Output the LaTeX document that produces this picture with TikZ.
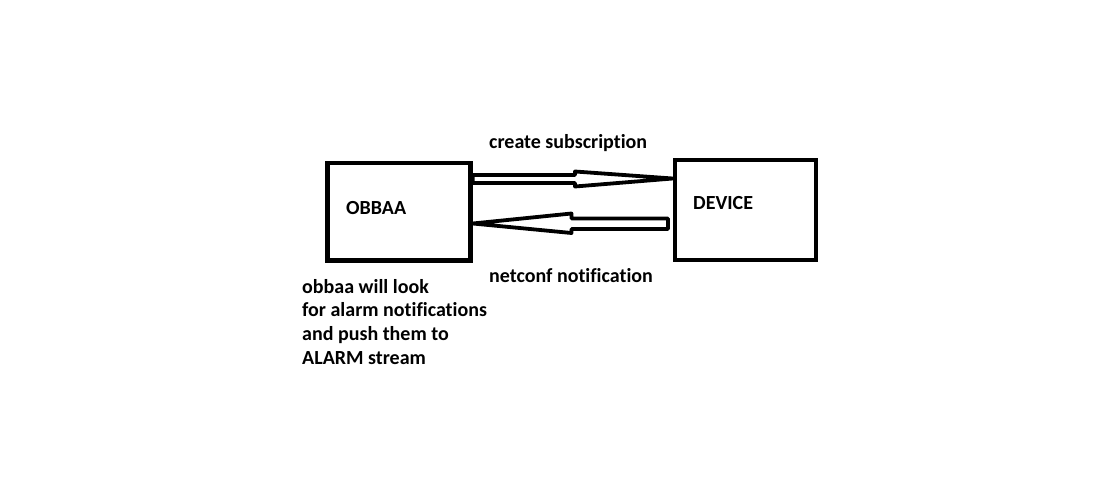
\documentclass[tikz,border=0pt]{standalone}
\usepackage{fontspec}
\setmainfont{Carlito}[Ligatures=NoCommon]
\usetikzlibrary{calc}

\begin{document}
\begin{tikzpicture}[x=1pt, y=-1pt,
    box/.style={rectangle, draw, line width=4.5pt, inner sep=0pt},
    lbl/.style={font=\fontsize{20}{23.8}\selectfont\bfseries, inner sep=0pt, anchor=base west},
    hollow/.style={draw, line width=3.8pt, line join=round}
]
    \useasboundingbox (0,0) rectangle (1093,482);

    % the two boxes
    \node[box, minimum width=143pt, minimum height=97.5pt] (obbaa) at (399,211.75) {};
    \node[box, minimum width=141pt, minimum height=100pt] (device) at (745.5,210) {};

    \node[lbl] (obbaatext) at (346,214) {OBBAA};
    \node[lbl] (devicetext) at (693,209) {DEVICE};

    % subscription request
    \draw[hollow] (obbaa.east |- 0,175) -- (575,175) -- (575,171.5)
        -- (device.west |- 0,178.5) -- (575,186.5) -- (575,183)
        -- (obbaa.east |- 0,183) -- cycle;
    \node[lbl] (subtext) at (489,148) {create subscription};

    % notification back
    \draw[hollow] (obbaa.east |- 0,223.5) -- (571.5,213.5) -- (571.5,218.5)
        -- (668,218.5) -- (668,229) -- (571.5,229) -- (571.5,233) -- cycle;
    \node[lbl] (notiftext) at (489,282) {netconf notification};

    % base anchor sits on the last line
    \node[lbl, align=left] (alarmtext) at (302,364.5)
        {obbaa will look\\for alarm notifications\\and push them to\\ALARM stream};
\end{tikzpicture}
\end{document}
